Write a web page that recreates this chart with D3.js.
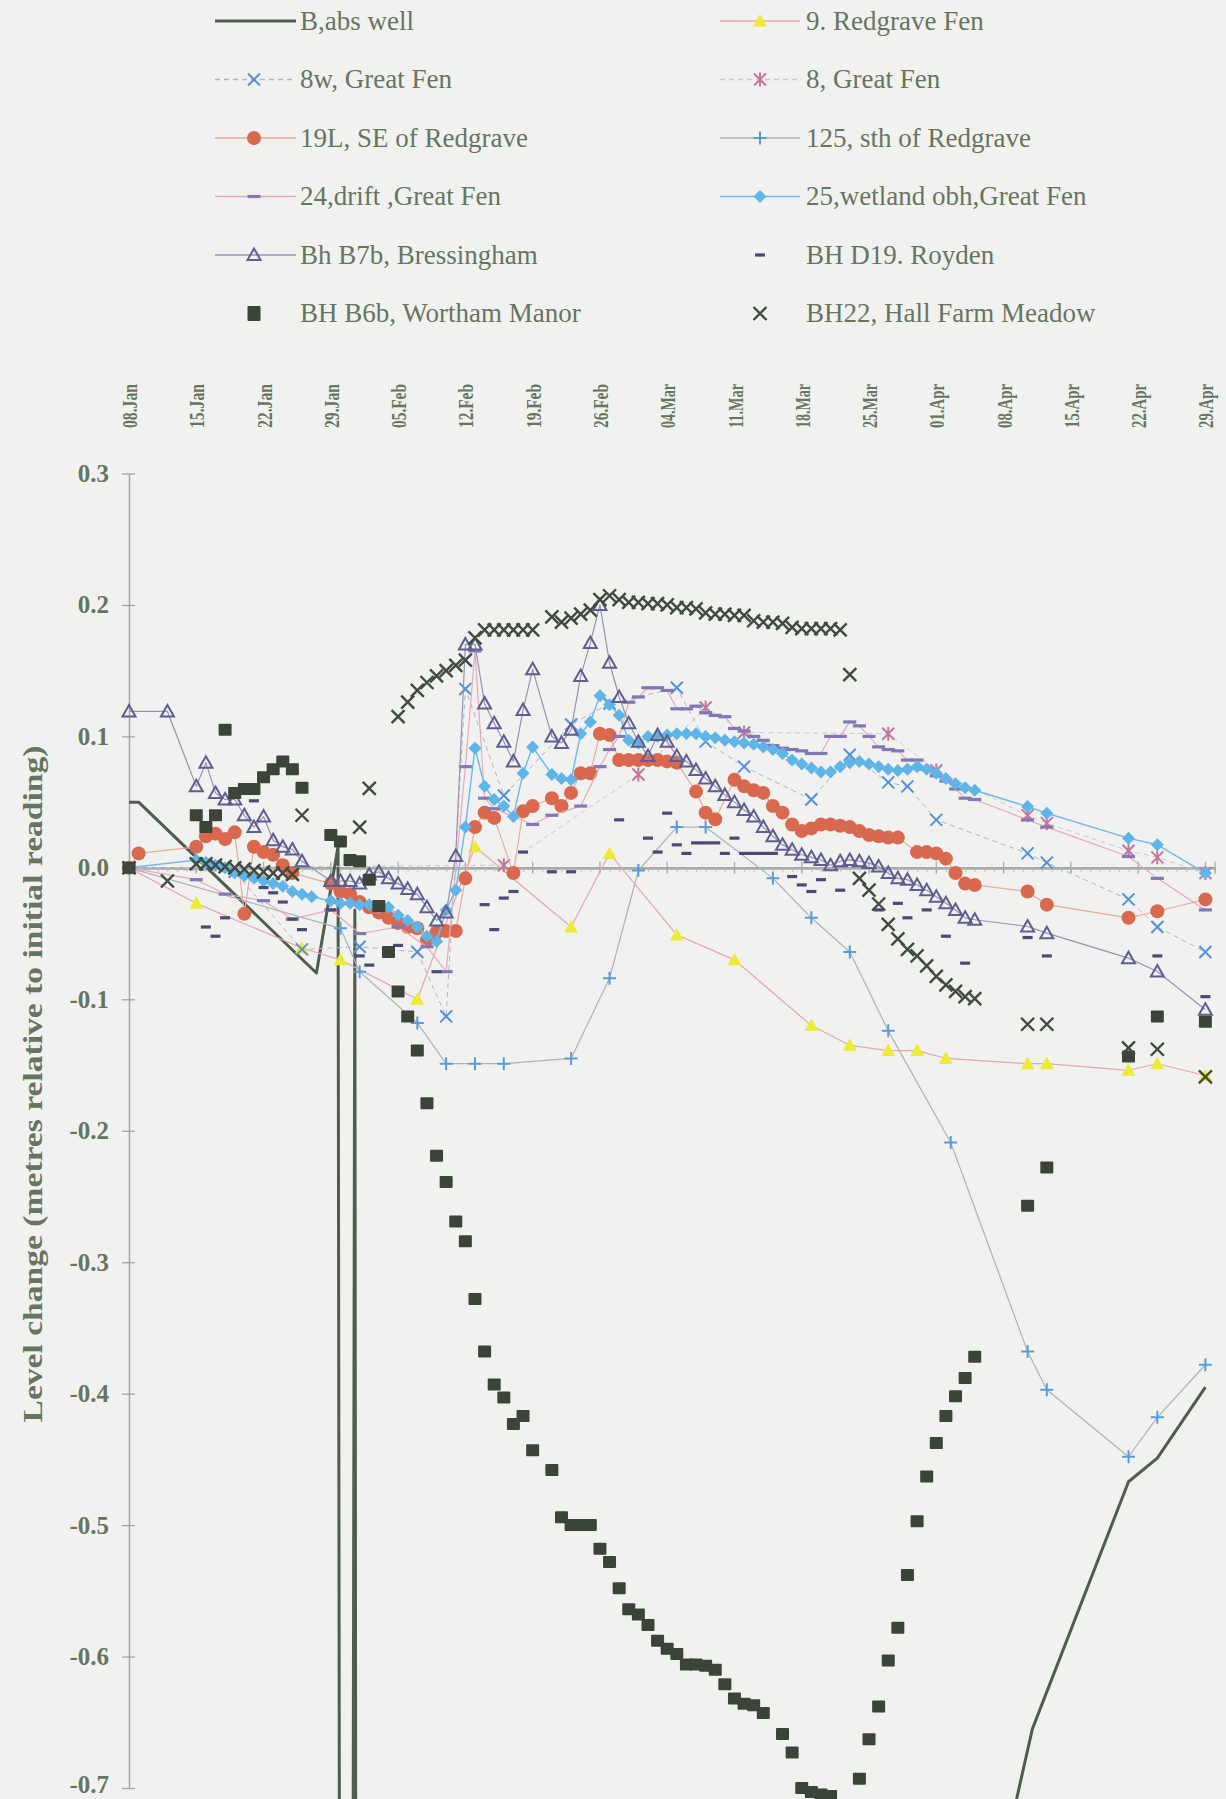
<!DOCTYPE html>
<html>
<head>
<meta charset="utf-8">
<script src="https://cdn.jsdelivr.net/npm/d3@7"></script>
<style>
  html, body { margin: 0; padding: 0; background: #f1f2f0; }
  svg { display: block; }
</style>
</head>
<body>
<svg id="chart" width="1226" height="1799"></svg>
<script>
// ---- axis definitions ----
const xTickDates = ["1996-01-08","1996-01-15","1996-01-22","1996-01-29","1996-02-05","1996-02-12",
  "1996-02-19","1996-02-26","1996-03-04","1996-03-11","1996-03-18","1996-03-25","1996-04-01",
  "1996-04-08","1996-04-15","1996-04-22","1996-04-29"];
const yTickValues = [0.3, 0.2, 0.1, 0.0, -0.1, -0.2, -0.3, -0.4, -0.5, -0.6, -0.7];
const yTickLabels = ["0.3","0.2","0.1","0.0","-0.1","-0.2","-0.3","-0.4","-0.5","-0.6","-0.7"];

// ---- level change (m relative to initial reading) per borehole ----
// B,abs well: the abstraction well drops far below the plotted range while pumping
const absWell = [["1996-01-08",0.05],["1996-01-09",0.05],["1996-01-27 12:00",-0.08],["1996-01-29 18:00",0.016],
  ["1996-01-30 12:00",-4.0],["1996-01-31 12:00",-0.032],["1996-02-01",-4.0],["1996-04-09",-0.72],
  ["1996-04-11",-0.655],["1996-04-21",-0.467],["1996-04-24",-0.449],["1996-04-29",-0.395]];

const redgrave9 = [["1996-01-08",0.0],["1996-01-15",-0.027],["1996-01-26",-0.061],["1996-01-30",-0.07],
  ["1996-02-07",-0.10],["1996-02-13",0.016],["1996-02-23",-0.045],["1996-02-27",0.011],["1996-03-05",-0.051],
  ["1996-03-11",-0.07],["1996-03-19",-0.12],["1996-03-23",-0.135],["1996-03-27",-0.139],["1996-03-30",-0.139],
  ["1996-04-02",-0.145],["1996-04-10 12:00",-0.149],["1996-04-12 12:00",-0.149],["1996-04-21",-0.154],
  ["1996-04-24",-0.149],["1996-04-29",-0.158]];

const greatFen8w = [["1996-01-08",0.0],["1996-01-19",-0.003],["1996-01-26",-0.062],["1996-02-01",-0.06],
  ["1996-02-07",-0.064],["1996-02-10",-0.113],["1996-02-12",0.136],["1996-02-16",0.055],["1996-02-23",0.109],
  ["1996-02-27",0.125],["1996-03-05",0.137],["1996-03-08",0.096],["1996-03-12",0.077],["1996-03-19",0.052],
  ["1996-03-23",0.086],["1996-03-27",0.065],["1996-03-29",0.062],["1996-04-01",0.0365],
  ["1996-04-10 12:00",0.011],["1996-04-12 12:00",0.004],["1996-04-21",-0.024],["1996-04-24",-0.045],
  ["1996-04-29",-0.064]];

const greatFen8 = [["1996-01-08",0.0],["1996-02-16",0.002],["1996-03-01",0.071],["1996-03-08",0.122],
  ["1996-03-12",0.103],["1996-03-27",0.102],["1996-04-01",0.074],["1996-04-10 12:00",0.040],
  ["1996-04-12 12:00",0.034],["1996-04-21",0.013],["1996-04-24",0.008],["1996-04-29",-0.004]];

const se19L = [["1996-01-08",0.0],["1996-01-09",0.011],["1996-01-15",0.016],["1996-01-16",0.024],["1996-01-17",0.026],
  ["1996-01-18",0.022],["1996-01-19",0.027],["1996-01-20",-0.035],["1996-01-21",0.016],["1996-01-22",0.012],
  ["1996-01-23",0.010],["1996-01-24",0.002],["1996-01-25",-0.004],["1996-01-29",-0.012],["1996-01-30",-0.018],
  ["1996-01-31",-0.02],["1996-02-01",-0.026],["1996-02-02",-0.03],["1996-02-03",-0.034],["1996-02-04",-0.038],
  ["1996-02-05",-0.042],["1996-02-06",-0.045],["1996-02-07",-0.046],["1996-02-08",-0.055],["1996-02-09",-0.049],
  ["1996-02-10",-0.048],["1996-02-11",-0.048],["1996-02-12",-0.008],["1996-02-13",0.031],["1996-02-14",0.042],
  ["1996-02-15",0.038],["1996-02-17",-0.004],["1996-02-18",0.043],["1996-02-19",0.047],["1996-02-21",0.053],
  ["1996-02-22",0.047],["1996-02-23",0.057],["1996-02-24",0.072],["1996-02-25",0.072],["1996-02-26",0.102],
  ["1996-02-27",0.101],["1996-02-28",0.082],["1996-02-29",0.082],["1996-03-01",0.082],["1996-03-02",0.082],
  ["1996-03-03",0.082],["1996-03-04",0.081],["1996-03-05",0.080],["1996-03-07",0.058],["1996-03-08",0.042],
  ["1996-03-09",0.037],["1996-03-11",0.067],["1996-03-12",0.062],["1996-03-13",0.059],["1996-03-14",0.057],
  ["1996-03-15",0.047],["1996-03-16",0.042],["1996-03-17",0.033],["1996-03-18",0.028],["1996-03-19",0.030],
  ["1996-03-20",0.033],["1996-03-21",0.033],["1996-03-22",0.032],["1996-03-23",0.031],["1996-03-24",0.028],
  ["1996-03-25",0.025],["1996-03-26",0.024],["1996-03-27",0.023],["1996-03-28",0.023],["1996-03-30",0.012],
  ["1996-03-31",0.012],["1996-04-01",0.011],["1996-04-02",0.007],["1996-04-03",-0.004],["1996-04-04",-0.012],
  ["1996-04-05",-0.013],["1996-04-10 12:00",-0.018],["1996-04-12 12:00",-0.028],["1996-04-21",-0.038],
  ["1996-04-24",-0.033],["1996-04-29",-0.024]];

const sth125 = [["1996-01-08",0.0],["1996-01-30",-0.046],["1996-02-01",-0.079],["1996-02-07",-0.118],
  ["1996-02-10",-0.149],["1996-02-13",-0.149],["1996-02-16",-0.149],["1996-02-23",-0.145],["1996-02-27",-0.084],
  ["1996-03-01",-0.002],["1996-03-05",0.031],["1996-03-08",0.031],["1996-03-15",-0.008],["1996-03-19",-0.038],
  ["1996-03-23",-0.064],["1996-03-27",-0.124],["1996-04-02 12:00",-0.209],["1996-04-10 12:00",-0.368],
  ["1996-04-12 12:00",-0.397],["1996-04-21",-0.448],["1996-04-24",-0.418],["1996-04-29",-0.378]];

const drift24 = [["1996-01-08",0.0],["1996-01-15",-0.009],["1996-01-18",-0.02],["1996-01-22",-0.025],
  ["1996-01-25",-0.039],["1996-01-29",-0.032],["1996-02-01",-0.05],["1996-02-05",-0.045],["1996-02-08",-0.06],
  ["1996-02-10",-0.079],["1996-02-12",0.077],["1996-02-13",0.165],["1996-02-14",0.053],["1996-02-15",0.045],
  ["1996-02-19",0.033],["1996-02-21",0.040],["1996-02-24",0.047],["1996-02-26",0.077],["1996-02-27",0.09],
  ["1996-02-28",0.10],["1996-02-29",0.126],["1996-03-01",0.13],["1996-03-02",0.137],["1996-03-03",0.137],
  ["1996-03-04",0.135],["1996-03-05",0.121],["1996-03-06",0.121],["1996-03-07",0.123],["1996-03-08",0.118],
  ["1996-03-09",0.116],["1996-03-10",0.115],["1996-03-11",0.106],["1996-03-12",0.104],["1996-03-13",0.100],
  ["1996-03-14",0.097],["1996-03-15",0.093],["1996-03-16",0.091],["1996-03-17",0.090],["1996-03-18",0.089],
  ["1996-03-19",0.087],["1996-03-20",0.087],["1996-03-21",0.100],["1996-03-22",0.100],["1996-03-23",0.111],
  ["1996-03-24",0.108],["1996-03-25",0.100],["1996-03-26",0.092],["1996-03-27",0.090],["1996-03-28",0.089],
  ["1996-03-29",0.082],["1996-03-30",0.082],["1996-03-31",0.075],["1996-04-01",0.070],["1996-04-02",0.066],
  ["1996-04-03",0.060],["1996-04-04",0.053],["1996-04-05",0.052],["1996-04-10 12:00",0.0365],
  ["1996-04-12 12:00",0.031],["1996-04-21",0.0086],["1996-04-24",-0.008],["1996-04-29",-0.032]];

const wetland25 = [["1996-01-08",0.0],["1996-01-15",0.006],["1996-01-16",0.004],["1996-01-17",0.002],
  ["1996-01-18",0.0],["1996-01-19",-0.004],["1996-01-20",-0.006],["1996-01-21",-0.008],["1996-01-22",-0.01],
  ["1996-01-23",-0.012],["1996-01-24",-0.014],["1996-01-25",-0.018],["1996-01-26",-0.02],["1996-01-27",-0.022],
  ["1996-01-29",-0.025],["1996-01-30",-0.027],["1996-01-31",-0.027],["1996-02-01",-0.028],["1996-02-02",-0.028],
  ["1996-02-03",-0.03],["1996-02-04",-0.03],["1996-02-05",-0.036],["1996-02-06",-0.04],["1996-02-07",-0.045],
  ["1996-02-08",-0.052],["1996-02-09",-0.056],["1996-02-10",-0.032],["1996-02-11",-0.017],["1996-02-12",0.031],
  ["1996-02-13",0.091],["1996-02-14",0.062],["1996-02-15",0.052],["1996-02-16",0.047],["1996-02-17",0.039],
  ["1996-02-18",0.072],["1996-02-19",0.092],["1996-02-21",0.071],["1996-02-22",0.068],["1996-02-23",0.067],
  ["1996-02-24",0.102],["1996-02-25",0.111],["1996-02-26",0.131],["1996-02-27",0.124],["1996-02-28",0.116],
  ["1996-02-29",0.097],["1996-03-01",0.095],["1996-03-02",0.100],["1996-03-03",0.100],["1996-03-04",0.101],
  ["1996-03-05",0.102],["1996-03-06",0.102],["1996-03-07",0.102],["1996-03-08",0.100],["1996-03-09",0.099],
  ["1996-03-10",0.097],["1996-03-11",0.096],["1996-03-12",0.095],["1996-03-13",0.094],["1996-03-14",0.092],
  ["1996-03-15",0.090],["1996-03-16",0.087],["1996-03-17",0.082],["1996-03-18",0.079],["1996-03-19",0.076],
  ["1996-03-20",0.073],["1996-03-21",0.073],["1996-03-22",0.077],["1996-03-23",0.080],["1996-03-24",0.081],
  ["1996-03-25",0.079],["1996-03-26",0.077],["1996-03-27",0.075],["1996-03-28",0.074],["1996-03-29",0.075],
  ["1996-03-30",0.077],["1996-03-31",0.075],["1996-04-01",0.072],["1996-04-02",0.068],["1996-04-03",0.064],
  ["1996-04-04",0.061],["1996-04-05",0.059],["1996-04-10 12:00",0.0466],["1996-04-12 12:00",0.0416],
  ["1996-04-21",0.0226],["1996-04-24",0.0175],["1996-04-29",-0.004]];

const bressingham = [["1996-01-08",0.119],["1996-01-12",0.119],["1996-01-15",0.062],["1996-01-16",0.080],
  ["1996-01-17",0.057],["1996-01-18",0.052],["1996-01-19",0.052],["1996-01-20",0.040],["1996-01-21",0.031],
  ["1996-01-22",0.039],["1996-01-23",0.021],["1996-01-24",0.016],["1996-01-25",0.014],["1996-01-26",0.005],
  ["1996-01-29",-0.01],["1996-01-30",-0.01],["1996-01-31",-0.01],["1996-02-01",-0.012],["1996-02-02",-0.005],
  ["1996-02-03",-0.003],["1996-02-04",-0.008],["1996-02-05",-0.012],["1996-02-06",-0.016],["1996-02-07",-0.02],
  ["1996-02-08",-0.03],["1996-02-09",-0.04],["1996-02-10",-0.034],["1996-02-11",0.009],["1996-02-12",0.17],
  ["1996-02-13",0.17],["1996-02-14",0.125],["1996-02-15",0.110],["1996-02-16",0.096],["1996-02-17",0.081],
  ["1996-02-18",0.120],["1996-02-19",0.151],["1996-02-21",0.100],["1996-02-22",0.095],["1996-02-23",0.105],
  ["1996-02-24",0.146],["1996-02-25",0.171],["1996-02-26",0.200],["1996-02-27",0.156],["1996-02-28",0.130],
  ["1996-02-29",0.110],["1996-03-01",0.096],["1996-03-02",0.085],["1996-03-03",0.101],["1996-03-04",0.096],
  ["1996-03-05",0.085],["1996-03-06",0.081],["1996-03-07",0.0745],["1996-03-08",0.068],["1996-03-09",0.062],
  ["1996-03-10",0.0555],["1996-03-11",0.050],["1996-03-12",0.044],["1996-03-13",0.039],["1996-03-14",0.031],
  ["1996-03-15",0.024],["1996-03-16",0.0175],["1996-03-17",0.0137],["1996-03-18",0.010],["1996-03-19",0.008],
  ["1996-03-20",0.006],["1996-03-21",0.002],["1996-03-22",0.005],["1996-03-23",0.006],["1996-03-24",0.005],
  ["1996-03-25",0.0036],["1996-03-26",0.001],["1996-03-27",-0.004],["1996-03-28",-0.008],["1996-03-29",-0.009],
  ["1996-03-30",-0.013],["1996-03-31",-0.017],["1996-04-01",-0.022],["1996-04-02",-0.027],["1996-04-03",-0.032],
  ["1996-04-04",-0.038],["1996-04-05",-0.0395],["1996-04-10 12:00",-0.0446],["1996-04-12 12:00",-0.0497],
  ["1996-04-21",-0.0687],["1996-04-24",-0.0788],["1996-04-29",-0.108]];

const royden = [["1996-01-16",-0.045],["1996-01-17",-0.052],["1996-01-18",-0.038],["1996-01-21",0.051],
  ["1996-01-22",-0.015],["1996-01-23",-0.019],["1996-01-24",-0.026],["1996-01-25",-0.039],["1996-01-26",-0.047],
  ["1996-01-29",-0.032],["1996-02-01",-0.067],["1996-02-02",-0.074],["1996-02-05",-0.059],["1996-02-09",-0.079],
  ["1996-02-14",-0.028],["1996-02-15",-0.047],["1996-02-16",-0.023],["1996-02-17",-0.018],["1996-02-18",0.012],
  ["1996-02-21",-0.003],["1996-02-23",-0.003],["1996-02-28",0.0365],["1996-03-02",0.0226],["1996-03-03",0.012],
  ["1996-03-04",0.0416],["1996-03-05",0.0175],["1996-03-06",0.011],["1996-03-07",0.019],["1996-03-08",0.019],
  ["1996-03-09",0.019],["1996-03-10",0.011],["1996-03-11",0.0226],["1996-03-12",0.011],["1996-03-13",0.011],
  ["1996-03-14",0.011],["1996-03-15",0.011],["1996-03-17",-0.0066],["1996-03-18",-0.013],["1996-03-19",-0.018],
  ["1996-03-20",-0.009],["1996-03-22",-0.017],["1996-03-26",-0.032],["1996-03-28",-0.027],["1996-03-29",-0.038],
  ["1996-03-31",-0.032],["1996-04-02",-0.052],["1996-04-04",-0.0725],["1996-04-10 12:00",-0.053],
  ["1996-04-12 12:00",-0.067],["1996-04-24",-0.067],["1996-04-29",-0.098]];

const worthamManor = [["1996-01-08",0.0],["1996-01-15",0.040],["1996-01-16",0.031],["1996-01-17",0.040],
  ["1996-01-18",0.105],["1996-01-19",0.057],["1996-01-20",0.060],["1996-01-21",0.060],["1996-01-22",0.069],
  ["1996-01-23",0.075],["1996-01-24",0.081],["1996-01-25",0.075],["1996-01-26",0.061],["1996-01-29",0.025],
  ["1996-01-30",0.020],["1996-01-31",0.006],["1996-02-01",0.005],["1996-02-02",-0.009],["1996-02-03",-0.029],
  ["1996-02-04",-0.064],["1996-02-05",-0.094],["1996-02-06",-0.113],["1996-02-07",-0.139],["1996-02-08",-0.179],
  ["1996-02-09",-0.219],["1996-02-10",-0.239],["1996-02-11",-0.269],["1996-02-12",-0.284],["1996-02-13",-0.328],
  ["1996-02-14",-0.368],["1996-02-15",-0.393],["1996-02-16",-0.403],["1996-02-17",-0.423],["1996-02-18",-0.417],
  ["1996-02-19",-0.443],["1996-02-21",-0.458],["1996-02-22",-0.494],["1996-02-23",-0.5],["1996-02-24",-0.5],
  ["1996-02-25",-0.5],["1996-02-26",-0.518],["1996-02-27",-0.528],["1996-02-28",-0.548],["1996-02-29",-0.564],
  ["1996-03-01",-0.568],["1996-03-02",-0.576],["1996-03-03",-0.588],["1996-03-04",-0.594],["1996-03-05",-0.598],
  ["1996-03-06",-0.606],["1996-03-07",-0.606],["1996-03-08",-0.607],["1996-03-09",-0.61],["1996-03-10",-0.621],
  ["1996-03-11",-0.632],["1996-03-12",-0.636],["1996-03-13",-0.637],["1996-03-14",-0.643],["1996-03-16",-0.659],
  ["1996-03-17",-0.673],["1996-03-18",-0.700],["1996-03-19",-0.703],["1996-03-20",-0.705],["1996-03-21",-0.706],
  ["1996-03-24",-0.693],["1996-03-25",-0.663],["1996-03-26",-0.638],["1996-03-27",-0.603],["1996-03-28",-0.578],
  ["1996-03-29",-0.538],["1996-03-30",-0.497],["1996-03-31",-0.463],["1996-04-01",-0.4375],["1996-04-02",-0.417],
  ["1996-04-03",-0.402],["1996-04-04",-0.388],["1996-04-05",-0.372],["1996-04-10 12:00",-0.257],
  ["1996-04-12 12:00",-0.228],["1996-04-21",-0.1435],["1996-04-24",-0.113],["1996-04-29",-0.117]];

const hallFarm = [["1996-01-08",0.0],["1996-01-12",-0.010],["1996-01-15",0.003],["1996-01-16",0.003],
  ["1996-01-17",0.002],["1996-01-18",0.001],["1996-01-19",0.0],["1996-01-20",-0.001],["1996-01-21",-0.002],
  ["1996-01-22",-0.003],["1996-01-23",-0.004],["1996-01-24",-0.004],["1996-01-25",-0.005],["1996-01-26",0.040],
  ["1996-02-01",0.031],["1996-02-02",0.0605],["1996-02-05",0.115],["1996-02-06",0.126],["1996-02-07",0.135],
  ["1996-02-08",0.141],["1996-02-09",0.146],["1996-02-10",0.150],["1996-02-11",0.154],["1996-02-12",0.158],
  ["1996-02-13",0.175],["1996-02-14",0.181],["1996-02-15",0.181],["1996-02-16",0.181],["1996-02-17",0.181],
  ["1996-02-18",0.181],["1996-02-19",0.181],["1996-02-21",0.191],["1996-02-22",0.187],["1996-02-23",0.190],
  ["1996-02-24",0.193],["1996-02-25",0.196],["1996-02-26",0.204],["1996-02-27",0.207],["1996-02-28",0.204],
  ["1996-02-29",0.202],["1996-03-01",0.202],["1996-03-02",0.201],["1996-03-03",0.201],["1996-03-04",0.200],
  ["1996-03-05",0.198],["1996-03-06",0.198],["1996-03-07",0.197],["1996-03-08",0.194],["1996-03-09",0.193],
  ["1996-03-10",0.193],["1996-03-11",0.192],["1996-03-12",0.192],["1996-03-13",0.188],["1996-03-14",0.187],
  ["1996-03-15",0.187],["1996-03-16",0.186],["1996-03-17",0.183],["1996-03-18",0.182],["1996-03-19",0.182],
  ["1996-03-20",0.182],["1996-03-21",0.182],["1996-03-22",0.181],["1996-03-23",0.147],["1996-03-24",-0.008],
  ["1996-03-25",-0.017],["1996-03-26",-0.0275],["1996-03-27",-0.043],["1996-03-28",-0.054],["1996-03-29",-0.062],
  ["1996-03-30",-0.067],["1996-03-31",-0.0745],["1996-04-01",-0.0825],["1996-04-02",-0.089],["1996-04-03",-0.094],
  ["1996-04-04",-0.098],["1996-04-05",-0.0995],["1996-04-10 12:00",-0.119],["1996-04-12 12:00",-0.119],
  ["1996-04-21",-0.137],["1996-04-24",-0.138],["1996-04-29",-0.159]];

const seriesNames = ["B,abs well","9. Redgrave Fen","8w, Great Fen","8, Great Fen","19L, SE of Redgrave",
  "125, sth of Redgrave","24,drift ,Great Fen","25,wetland obh,Great Fen","Bh B7b, Bressingham",
  "BH D19. Royden","BH B6b, Wortham Manor","BH22, Hall Farm Meadow"];

// ---- styling per series (legend order = drawing order) ----
const series = [
  { data: absWell,      marker: null,        color: null,      line: "#4f5d4c", lw: 3 },
  { data: redgrave9,    marker: "triangle",  color: "#ecec38", line: "#e3a7b6", lw: 1.2 },
  { data: greatFen8w,   marker: "x",         color: "#5590d6", line: "#aab7c4", lw: 1, dash: "5,4" },
  { data: greatFen8,    marker: "star",      color: "#c4769c", line: "#cfc6cb", lw: 1, dash: "5,4" },
  { data: se19L,        marker: "circle",    color: "#d8694f", line: "#e8ab9c", lw: 1.2 },
  { data: sth125,       marker: "plus",      color: "#5b9bd8", line: "#abb3ba", lw: 1.2 },
  { data: drift24,      marker: "dash",      color: "#8079b4", line: "#e5aabb", lw: 1.2 },
  { data: wetland25,    marker: "diamond",   color: "#5fb4e8", line: "#72bbea", lw: 1.5 },
  { data: bressingham,  marker: "triOpen",   color: "#5f5e90", line: "#9393b2", lw: 1.2 },
  { data: royden,       marker: "dashDark",  color: "#4c4a74", line: null },
  { data: worthamManor, marker: "square",    color: "#3a4538", line: null },
  { data: hallFarm,     marker: "x",         color: "#3f4c3e", line: null, big: true }
];

const svg = d3.select("#chart");
const parseDay = d3.utcParse("%Y-%m-%d");
const parseHour = d3.utcParse("%Y-%m-%d %H:%M");
const toDate = s => (s.length > 10 ? parseHour(s) : parseDay(s));

const x = d3.scaleUtc()
  .domain([toDate("1996-01-08"), toDate("1996-04-30")])
  .range([129, 1215]);
const y = d3.scaleLinear().domain([-0.7, 0.3]).range([1788, 473.5]);

const ink = "#66755f";
const serif = "'Liberation Serif', 'Times New Roman', Times, serif";

// ---- marker glyphs ----
function drawMarker(g, type, color, big) {
  switch (type) {
    case "triangle":
      g.append("path").attr("d", "M0,-7L7,5.5L-7,5.5Z").attr("fill", color);
      break;
    case "triOpen":
      g.append("path").attr("d", "M0,-6.5L6.5,5L-6.5,5Z").attr("fill", "none")
        .attr("stroke", color).attr("stroke-width", 2);
      break;
    case "x": {
      const s = big ? 6.5 : 6;
      g.append("path").attr("d", `M${-s},${-s}L${s},${s}M${-s},${s}L${s},${-s}`)
        .attr("stroke", color).attr("stroke-width", big ? 2.4 : 2).attr("fill", "none");
      break;
    }
    case "star":
      g.append("path").attr("d", "M-6,-6L6,6M-6,6L6,-6M0,-7V7")
        .attr("stroke", color).attr("stroke-width", 2).attr("fill", "none");
      break;
    case "plus":
      g.append("path").attr("d", "M-6.5,0H6.5M0,-6.5V6.5")
        .attr("stroke", color).attr("stroke-width", 2).attr("fill", "none");
      break;
    case "circle":
      g.append("circle").attr("r", 7).attr("fill", color);
      break;
    case "diamond":
      g.append("path").attr("d", "M0,-6.5L6.5,0L0,6.5L-6.5,0Z").attr("fill", color);
      break;
    case "dash":
      g.append("rect").attr("x", -6.5).attr("y", -1.6).attr("width", 13).attr("height", 3.2).attr("fill", color);
      break;
    case "dashDark":
      g.append("rect").attr("x", -5).attr("y", -1.6).attr("width", 10).attr("height", 3.2).attr("fill", color);
      break;
    case "square":
      g.append("rect").attr("x", -6.5).attr("y", -6).attr("width", 13).attr("height", 12)
        .attr("rx", 1).attr("fill", color);
      break;
  }
}

// ---- legend ----
const legend = svg.append("g").attr("font-family", serif).attr("font-size", 27).attr("fill", ink);
series.forEach((s, i) => {
  const col = i % 2, row = Math.floor(i / 2);
  const cy = 21 + row * 58.5;
  const x1 = col === 0 ? 215 : 720, x2 = col === 0 ? 296 : 800, mx = col === 0 ? 254 : 760;
  const tx = col === 0 ? 300 : 806;
  const g = legend.append("g");
  if (s.line) {
    g.append("line").attr("x1", x1).attr("x2", x2).attr("y1", cy).attr("y2", cy)
      .attr("stroke", s.line).attr("stroke-width", s.lw === 3 ? 3 : 1.6)
      .attr("stroke-dasharray", s.dash || null);
  }
  if (s.marker) {
    const mg = g.append("g").attr("transform", `translate(${mx},${cy})${s.marker === "square" ? " scale(1,1.25)" : ""}`);
    drawMarker(mg, s.marker, s.color, s.big);
  }
  g.append("text").attr("x", tx).attr("y", cy).attr("dy", "0.33em").text(seriesNames[i]);
});

// ---- top date labels ----
const weekDates = xTickDates.map(toDate);
const fmt = d3.utcFormat("%d.%b");
const gTop = svg.append("g").attr("transform", "translate(0,428)")
  .call(d3.axisTop(x).tickValues(weekDates).tickFormat(fmt).tickSize(0));
gTop.select(".domain").remove();
gTop.selectAll("text")
  .attr("transform", "rotate(-90)").attr("x", 0).attr("y", 0).attr("dy", "0.36em")
  .attr("text-anchor", "start").attr("fill", ink)
  .attr("font-family", serif).attr("font-size", 21).attr("font-weight", "bold")
  .attr("textLength", 44).attr("lengthAdjust", "spacingAndGlyphs");

// ---- y axis ----
const gy = svg.append("g").attr("transform", "translate(129,0)")
  .call(d3.axisLeft(y).tickValues(yTickValues).tickFormat((d, i) => yTickLabels[i])
    .tickSize(0).tickSizeOuter(0).tickPadding(20));
gy.select(".domain").attr("stroke", "#a2a6a2").attr("stroke-width", 1.5);
gy.selectAll(".tick").append("line").attr("x1", -7).attr("x2", 6).attr("stroke", "#a2a6a2").attr("stroke-width", 1.3);
gy.selectAll("text").attr("fill", ink).attr("font-family", serif)
  .attr("font-size", 25).attr("font-weight", "bold")
  .attr("dy", d => (d === -0.7 ? "0.18em" : "0.32em"));

svg.append("text")
  .attr("transform", `translate(32,1084) rotate(-90)`)
  .attr("text-anchor", "middle").attr("dy", "0.35em")
  .attr("font-family", serif).attr("font-size", 28).attr("font-weight", "bold").attr("fill", ink)
  .attr("textLength", 677).attr("lengthAdjust", "spacingAndGlyphs")
  .text("Level change (metres relative to initial reading)");

// ---- zero line (category axis) with daily and weekly ticks ----
const days = d3.utcDay.range(x.domain()[0], d3.utcDay.offset(x.domain()[1], 1));
const gz = svg.append("g").attr("transform", `translate(0,${y(0)})`)
  .call(d3.axisBottom(x).tickValues(days).tickSize(4).tickFormat("").tickSizeOuter(0));
gz.select(".domain").attr("stroke", "#a7acaa").attr("stroke-width", 2.6);
gz.selectAll(".tick line").attr("stroke", "#b8bcba").attr("stroke-width", 1);
gz.append("g").selectAll("line").data(weekDates.concat([x.domain()[1]])).join("line")
  .attr("x1", d => x(d)).attr("x2", d => x(d)).attr("y1", -6).attr("y2", 6)
  .attr("stroke", "#a7acaa").attr("stroke-width", 1.3);

// ---- series ----
const lineGen = d3.line().x(d => x(d.date)).y(d => y(d.value));
series.forEach(s => {
  const pts = s.data.map(([t, v]) => ({ date: toDate(t), value: v }));
  const g = svg.append("g");
  if (s.line) {
    g.append("path").attr("d", lineGen(pts)).attr("fill", "none")
      .attr("stroke", s.line).attr("stroke-width", s.lw)
      .attr("stroke-linejoin", "round")
      .attr("stroke-dasharray", s.dash || null);
  }
  if (s.marker) {
    g.selectAll("g.m").data(pts).join("g").attr("class", "m")
      .attr("transform", d => `translate(${x(d.date)},${y(d.value)})`)
      .each(function () { drawMarker(d3.select(this), s.marker, s.color, s.big); });
  }
});
</script>
</body>
</html>
